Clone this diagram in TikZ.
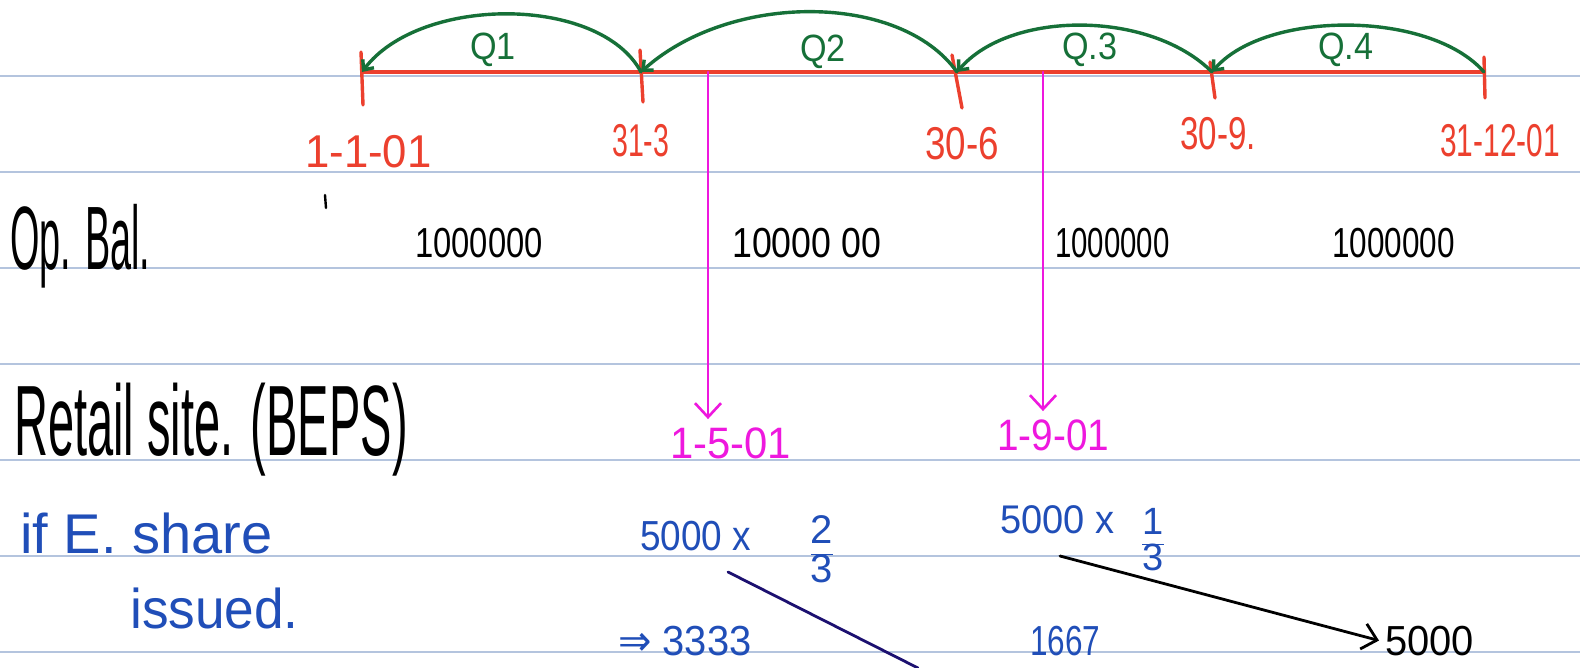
\documentclass[tikz,border=0pt]{standalone}
\usepackage{fontspec}
\setmainfont{Liberation Sans}
\newfontfamily\symfont{DejaVu Sans}
\usetikzlibrary{arrows.meta,calc,positioning}

\definecolor{inkred}{RGB}{236,64,46}
\definecolor{inkgreen}{RGB}{22,112,56}
\definecolor{inkmag}{RGB}{238,24,222}
\definecolor{inkblue}{RGB}{32,78,184}
\definecolor{inknavy}{RGB}{28,16,112}
\definecolor{ruleblue}{RGB}{180,196,222}

% squeezed handwriting-like text: {xscale}{size}{text}
\newcommand{\hw}[3]{\scalebox{#1}[1]{\fontsize{#2}{#2}\selectfont #3}}

\begin{document}
\begin{tikzpicture}[x=1pt,y=-1pt,line cap=round,line join=round,
    >={Straight Barb[length=14pt,width=26pt]},
    ruling/.style={draw=ruleblue,line width=2pt},
    tl/.style={draw=inkred,line width=3.4pt},
    qarc/.style={draw=inkgreen,line width=3.4pt,-{Straight Barb[length=8pt,width=14pt]}},
    magline/.style={draw=inkmag,line width=2.6pt,->},
    txt/.style={inner sep=0pt,anchor=base west}]
    \fill[white] (0,0) rectangle (1580,668);
    \useasboundingbox (0,0) rectangle (1580,668);
    \foreach \y in {76,172,268,364,460,556,652}
        \draw[ruling] (0,\y) -- (1580,\y);

    % time line
    \coordinate (t1) at (362,72);
    \coordinate (t2) at (641,72);
    \coordinate (t3) at (957,72);
    \coordinate (t4) at (1212,72);
    \coordinate (t5) at (1484,72);
    \draw[tl] (t1) -- (t5);
    \draw[tl] (361,52) -- (363,105);
    \draw[tl] (640,50) -- (643,102);
    \draw[tl] (952,55) -- (962,108);
    \draw[tl] (1210,62) -- (1215,98);
    \draw[tl] (1484,57) -- (1485,98);

    % quarters
    \draw[qarc] (t2) .. controls (600,-5) and (420,-5) .. (t1);
    \draw[qarc] (t3) .. controls (900,-8) and (730,-8) .. (t2);
    \draw[qarc] (t4) .. controls (1150,10) and (1010,10) .. (t3);
    \draw[qarc] (t5) .. controls (1430,10) and (1265,10) .. (t4);
    \node[txt,text=inkgreen] (q1) at (470,60) {\hw{0.9}{38}{Q1}};
    \node[txt,text=inkgreen] (q2) at (800,62) {\hw{0.9}{38}{Q2}};
    \node[txt,text=inkgreen] (q3) at (1062,60) {\hw{0.9}{38}{Q.3}};
    \node[txt,text=inkgreen] (q4) at (1318,60) {\hw{0.9}{38}{Q.4}};

    % dates
    \node[txt,text=inkred] (d1) at (305,168) {\hw{0.95}{46}{1-1-01}};
    \node[txt,text=inkred] (d2) at (612,157) {\hw{0.62}{46}{31-3}};
    \node[txt,text=inkred] (d3) at (925,160) {\hw{0.8}{46}{30-6}};
    \node[txt,text=inkred] (d4) at (1180,150) {\hw{0.72}{46}{30-9.}};
    \node[txt,text=inkred] (d5) at (1440,157) {\hw{0.65}{46}{31-12-01}};

    % opening balance
    \node[txt] (ob) at (10,270) {\hw{0.42}{90}{Op. Bal.}};
    \draw[line width=2.4pt] (325,195) -- (326,208);
    \node[txt] (v1) at (415,258) {\hw{0.78}{42}{1000000}};
    \node[txt] (v2) at (732,258) {\hw{0.85}{42}{10000 00}};
    \node[txt] (v3) at (1055,258) {\hw{0.7}{42}{1000000}};
    \node[txt] (v4) at (1332,258) {\hw{0.75}{42}{1000000}};

    % retail site
    \node[txt] (rs) at (14,455) {\hw{0.47}{100}{Retail site. (BEPS)}};
    \node[txt,text=inkmag] (r1) at (670,458) {\hw{0.95}{44}{1-5-01}};
    \node[txt,text=inkmag] (r2) at (997,450) {\hw{0.88}{44}{1-9-01}};
    \coordinate (m1) at (708,72);
    \coordinate (m2) at (1043,72);
    \draw[magline] (m1) -- (m1 |- r1.north) [shorten >=8pt];
    \draw[magline,shorten >=8pt] (m2) -- (m2 |- r2.north);

    % equity share issue
    \node[txt,text=inkblue] (es) at (20,553) {\hw{1}{56}{if E. share}};
    \node[txt,text=inkblue] (is) at (130,628) {\hw{0.95}{56}{issued.}};
    \node[txt,text=inkblue] (e1) at (640,550) {\hw{0.88}{42}{5000 x}};
    \node[text=inkblue,inner sep=0pt] (f1) at (822,555)
        {\hw{1}{40}{\begin{tabular}{@{}c@{}}2\\[-2pt]\hline 3\end{tabular}}};
    \node[txt,text=inkblue] (e2) at (1000,533) {\hw{0.95}{40}{5000 x}};
    \node[text=inkblue,inner sep=0pt] (f2) at (1153,545)
        {\hw{1}{38}{\begin{tabular}{@{}c@{}}1\\[-2pt]\hline 3\end{tabular}}};
    \node[txt,text=inkblue] (a1) at (618,655) {\hw{0.95}{42}{{\symfont ⇒} 3333}};
    \node[txt,text=inkblue] (a2) at (1030,655) {\hw{0.75}{42}{1667}};
    \node[txt] (tot) at (1385,655) {\hw{0.95}{42}{5000}};

    \coordinate (n1) at (728,572);
    \coordinate (n2) at (918,668);
    \draw[inknavy,line width=2.8pt] (n1) -- (n2);
    \coordinate (b1) at (1060,556);
    \draw[line width=2.8pt,->] (b1) -- ([xshift=-6pt]tot.west);
\end{tikzpicture}
\end{document}
